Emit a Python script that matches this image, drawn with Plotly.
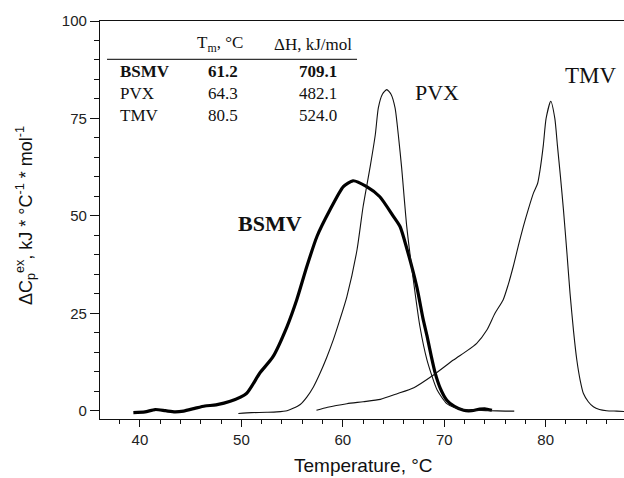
import plotly.graph_objects as go

# ---- data ----
bsmv_t = [39.35, 40.5, 41.5, 42.5, 43.45, 44.3, 45.4, 46.4, 47.5, 48.9, 50.5, 51.8, 53.1, 54.5, 55.45,
          56.45, 57.45, 58.75, 60.05, 61.0, 62.35, 63.65, 65.0, 65.65, 66.3, 67.3, 67.9, 68.3, 68.7,
          69.1, 69.6, 70.25, 71.0, 71.9, 72.7, 73.5, 74.0, 74.7]
bsmv_cp = [-0.5, -0.3, 0.3, 0.0, -0.3, -0.1, 0.6, 1.2, 1.5, 2.4, 4.4, 9.6, 13.8, 21.6, 28.4,
           37.0, 44.7, 51.6, 57.5, 59.0, 57.5, 54.9, 49.8, 47.2, 41.7, 31.7, 23.7, 19.2, 14.2,
           9.7, 5.8, 2.7, 1.1, 0.1, 0.0, 0.4, 0.5, 0.1]

pvx_t = [49.7, 51.0, 52.5, 53.5, 54.5, 55.1, 55.8, 56.45, 57.1, 57.75, 58.4, 59.05, 59.7, 60.4, 61.4,
         62.0, 62.7, 63.2, 63.5, 63.9, 64.33, 64.75, 65.15, 65.47, 65.8, 66.3, 66.95, 67.6, 68.3,
         69.3, 70.25, 71.0, 71.9, 73.0, 74.5, 76.0, 76.9]
pvx_cp = [-0.7, -0.5, -0.4, -0.3, 0.0, 0.6, 1.6, 3.5, 6.1, 9.6, 13.6, 18.1, 23.3, 29.3, 41.3,
          52.4, 62.7, 70.8, 77.7, 81.2, 82.4, 81.2, 77.7, 70.8, 62.3, 47.3, 33.6, 21.6, 13.0,
          5.3, 1.8, 0.8, 0.3, 0.1, 0.0, -0.1, -0.1]

tmv_t = [57.4, 58.5, 60.4, 62.0, 63.7, 65.3, 67.0, 68.9, 70.9, 72.2, 73.2, 74.2, 75.0, 75.8, 76.3,
         76.8, 77.3, 77.8, 78.3, 78.8, 79.2, 79.45, 79.77, 80.04, 80.5, 80.9, 81.15, 81.45, 81.75,
         82.1, 82.4, 82.75, 83.07, 83.4, 83.72, 84.2, 84.7, 85.3, 86.0, 87.0, 87.8]
tmv_cp = [0.1, 0.9, 1.8, 2.3, 2.9, 4.3, 5.9, 9.1, 13.0, 15.3, 17.3, 20.7, 25.0, 28.4, 32.3,
          37.0, 42.3, 47.3, 51.8, 55.9, 58.3, 61.9, 68.2, 75.0, 79.4, 75.0, 68.2, 60.2, 51.6,
          40.3, 30.1, 20.3, 13.0, 7.8, 4.4, 2.3, 1.0, 0.3, 0.0, -0.1, -0.2]

table_names = ["BSMV", "PVX", "TMV"]
table_tm = ["61.2", "64.3", "80.5"]
table_dh = ["709.1", "482.1", "524.0"]

SERIF = "Liberation Serif, Times New Roman, serif"
SANS = "Liberation Sans, Arial, sans-serif"


def note(fig, x, y, text, size, family=SERIF, xanchor="center", **kw):
    fig.add_annotation(x=x, y=y, xref="paper", yref="paper", text=text, showarrow=False,
                       xanchor=xanchor, yanchor="middle",
                       font=dict(family=family, size=size, color="#111"), **kw)


fig = go.Figure()
fig.add_trace(go.Scatter(x=bsmv_t, y=bsmv_cp, mode="lines",
                         line=dict(color="#000", width=3.2, shape="spline", smoothing=0.6)))
fig.add_trace(go.Scatter(x=pvx_t, y=pvx_cp, mode="lines",
                         line=dict(color="#111", width=1.1, shape="spline", smoothing=0.6)))
fig.add_trace(go.Scatter(x=tmv_t, y=tmv_cp, mode="lines",
                         line=dict(color="#111", width=1.1, shape="spline", smoothing=0.6)))

# curve labels
note(fig, 0.3244, 0.491, "<b>BSMV</b>", 22)
note(fig, 0.644, 0.8216, "PVX", 22)
note(fig, 0.937, 0.864, "TMV", 23)

# inset table
note(fig, 0.229, 0.942, "T<sub>m</sub>, °C", 17)
note(fig, 0.4065, 0.942, "ΔH, kJ/mol", 17)
fig.add_shape(type="line", xref="paper", yref="paper", x0=0.0134, x1=0.4905, y0=0.9038, y1=0.9038,
              line=dict(color="#333", width=1.2))
row_y = [0.8726, 0.8183, 0.7638]
for i, (n, tm, dh) in enumerate(zip(table_names, table_tm, table_dh)):
    b0, b1 = ("<b>", "</b>") if i == 0 else ("", "")
    note(fig, 0.0344, row_y[i], b0 + n + b1, 17, xanchor="left")
    note(fig, 0.2338, row_y[i], b0 + tm + b1, 17)
    note(fig, 0.4151, row_y[i], b0 + dh + b1, 17)

# axis titles
note(fig, -0.143, 0.51, "ΔC<sub>p</sub><sup>ex</sup>, kJ * °C<sup>-1</sup> * mol<sup>-1</sup>",
     18, family=SANS, textangle=-90)
note(fig, (363.6 - 100) / 524, (419 - 466) / 398, "Temperature, °C", 19, family=SANS)

fig.update_layout(
    width=624, height=478,
    margin=dict(l=100, r=0, t=21, b=59),
    paper_bgcolor="white", plot_bgcolor="white",
    showlegend=False,
    xaxis=dict(range=[36.06, 87.72], dtick=10, tick0=0, showgrid=False, zeroline=False,
               showline=True, linecolor="#111", linewidth=1.3, mirror=True,
               ticks="outside", ticklen=7, tickwidth=1.2, tickcolor="#111",
               tickfont=dict(family=SANS, size=15, color="#222"),
               minor=dict(dtick=2, tick0=0, ticks="outside", ticklen=4, tickwidth=1.1,
                          tickcolor="#111", showgrid=False)),
    yaxis=dict(range=[-2.13, 100], dtick=25, tick0=0, showgrid=False, zeroline=False,
               showline=True, linecolor="#111", linewidth=1.3,
               ticks="outside", ticklen=9, tickwidth=1.2, tickcolor="#111",
               tickfont=dict(family=SANS, size=15, color="#222"),
               minor=dict(dtick=5, tick0=0, ticks="outside", ticklen=5, tickwidth=1.1,
                          tickcolor="#111", showgrid=False)),
)

fig.write_html("out.html", config={"displayModeBar": False},
               post_script="document.body.style.margin='0px';")
